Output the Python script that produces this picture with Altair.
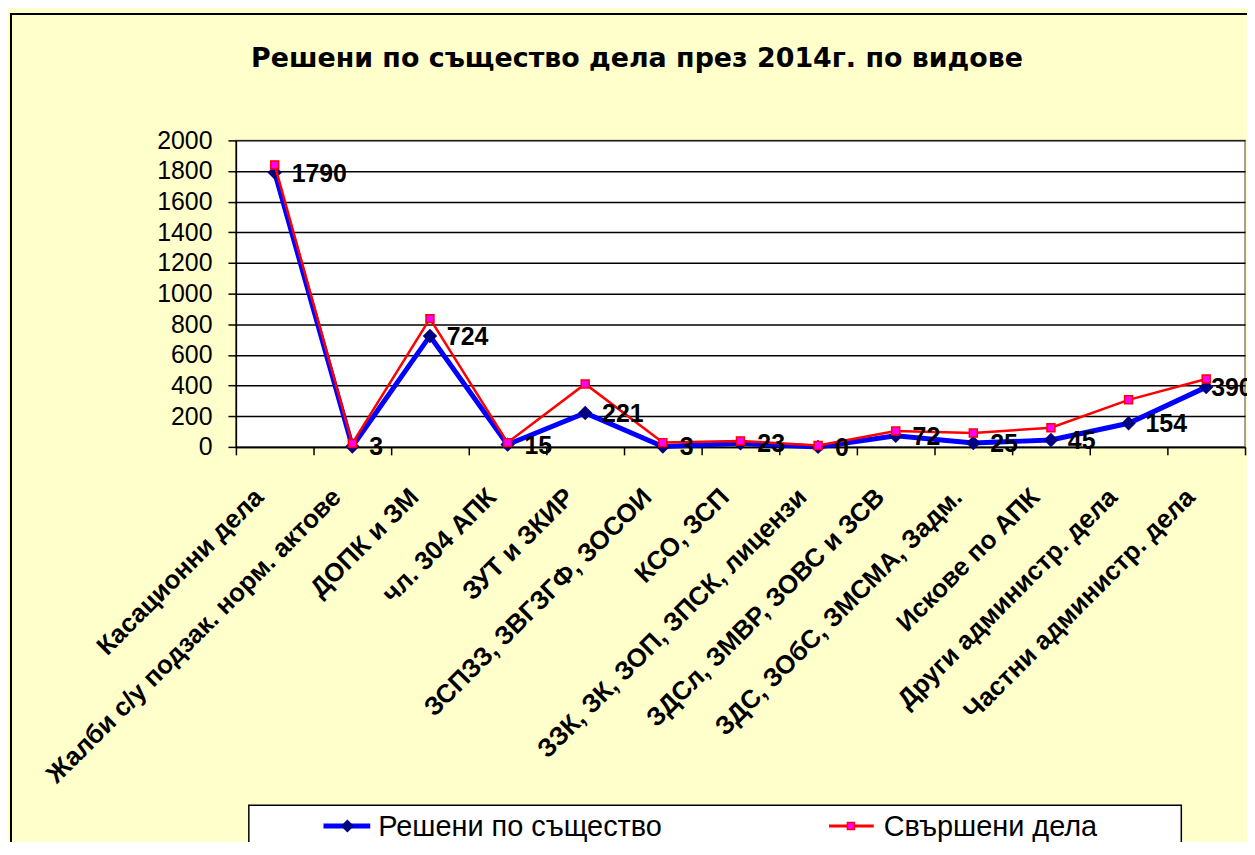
import altair as alt
import pandas as pd

categories = [
    "Касационни дела",
    "Жалби с/у подзак. норм. актове",
    "ДОПК и ЗМ",
    "чл. 304 АПК",
    "ЗУТ и ЗКИР",
    "ЗСПЗЗ, ЗВГЗГФ, ЗОСОИ",
    "КСО, ЗСП",
    "ЗЗК, ЗК, ЗОП, ЗПСК, лицензи",
    "ЗДСл, ЗМВР, ЗОВС и ЗСВ",
    "ЗДС, ЗОбС, ЗМСМА, Задм.",
    "Искове по АПК",
    "Други администр. дела",
    "Частни администр. дела",
]
resheni = [1790, 3, 724, 15, 221, 3, 23, 0, 72, 25, 45, 154, 390]
svarsheni = [1840, 22, 837, 28, 411, 28, 39, 9, 104, 91, 125, 307, 443]
series_names = ["Решени по същество", "Свършени дела"]
y_ticks = [0, 200, 400, 600, 800, 1000, 1200, 1400, 1600, 1800, 2000]
title_text = "Решени по същество дела през 2014г. по видове"

df = pd.DataFrame({"cat": categories, "resheni": resheni,
                   "svarsheni": svarsheni, "idx": list(range(len(categories)))})
one = pd.DataFrame({"a": [0]})

W, H = 1014, 308

x_enc = alt.X(
    "cat:N", sort=categories, bandPosition=0.5,
    scale=alt.Scale(type="band", paddingInner=0, paddingOuter=0),
    axis=alt.Axis(
        title=None, grid=False, domain=True, domainColor="black", domainWidth=1.5,
        ticks=True, tickBand="extent", tickSize=8, tickColor="black", tickWidth=1.5,
        labelAngle=-45, labelAlign="right", labelBaseline="middle",
        labelFont="Liberation Sans", labelFontWeight="bold", labelFontSize=26,
        labelColor="black", labelPadding=38, labelOffset=-16, labelLimit=1000,
        labelOverlap=False, labelBound=False,
    ),
)
y_scale = alt.Scale(domain=[0, 2000], nice=False, zero=True)
y_axis = alt.Axis(
    title=None, values=y_ticks, format="d", grid=True, gridColor="black", gridWidth=1.5,
    domain=True, domainColor="black", domainWidth=1.5,
    ticks=True, tickSize=8, tickColor="black", tickWidth=1.5,
    labelFont="Liberation Sans", labelFontSize=25, labelColor="black",
    labelPadding=16, labelBaseline="middle", labelBound=False, labelOverlap=False,
)


def y_enc(field):
    return alt.Y(f"{field}:Q", scale=y_scale, axis=y_axis, title=None)


base = alt.Chart(df)

blue_line = base.mark_line(color="#0000FF", strokeWidth=5).encode(
    x=x_enc, y=y_enc("resheni"))
blue_pts = base.mark_point(shape="diamond", filled=True, color="#000080",
                           size=210, opacity=1).encode(x=x_enc, y=y_enc("resheni"))
red_line = base.mark_line(color="#FF0000", strokeWidth=2.5).encode(
    x=x_enc, y=y_enc("svarsheni"))
red_pts = base.mark_point(shape="square", filled=True, fill="#FF00FF",
                          stroke="#FF0000", strokeWidth=1.5, size=64,
                          opacity=1).encode(x=x_enc, y=y_enc("svarsheni"))

label_style = dict(align="left", baseline="middle", font="Liberation Sans",
                   fontWeight="bold", fontSize=25, color="black")
labels = base.transform_filter("datum.idx < 12").mark_text(
    dx=17, dy=1, **label_style).encode(x=x_enc, y=y_enc("resheni"), text="resheni:Q")
labels_last = base.transform_filter("datum.idx == 12").mark_text(
    dx=5, dy=1, **label_style).encode(x=x_enc, y=y_enc("resheni"), text="resheni:Q")

# decorative chart frame
frame = alt.Chart(one).mark_rect(filled=False, stroke="black", strokeWidth=2).encode(
    x=alt.value(-226), x2=alt.value(1040), y=alt.value(-127), y2=alt.value(760))

# chart title (as a text mark so that the frame does not push it away)
title_mark = alt.Chart(one).mark_text(
    text=title_text, font="DejaVu Sans", fontWeight="bold", fontSize=27,
    color="black", align="center", baseline="alphabetic").encode(
    x=alt.value(403), y=alt.value(-74))

# legend (box, symbols, texts)
LY = 689
leg_box = alt.Chart(one).mark_rect(fill="white", stroke="black", strokeWidth=1.5).encode(
    x=alt.value(13), x2=alt.value(950), y=alt.value(668), y2=alt.value(760))
leg_blue_line = alt.Chart(one).mark_rule(color="#0000FF", strokeWidth=5).encode(
    x=alt.value(88), x2=alt.value(135), y=alt.value(LY))
leg_blue_pt = alt.Chart(one).mark_point(shape="diamond", filled=True, color="#000080",
                                        size=170, opacity=1).encode(
    x=alt.value(112), y=alt.value(LY))
leg_red_line = alt.Chart(one).mark_rule(color="#FF0000", strokeWidth=3).encode(
    x=alt.value(596), x2=alt.value(641), y=alt.value(LY))
leg_red_pt = alt.Chart(one).mark_point(shape="square", filled=True, fill="#FF00FF",
                                       stroke="#FF0000", strokeWidth=1.5, size=49,
                                       opacity=1).encode(
    x=alt.value(618), y=alt.value(LY))
leg_text_style = dict(align="left", baseline="alphabetic", font="Liberation Sans",
                      fontSize=29, color="black")
leg_t1 = alt.Chart(one).mark_text(text=series_names[0], **leg_text_style).encode(
    x=alt.value(143), y=alt.value(LY + 10))
leg_t2 = alt.Chart(one).mark_text(text=series_names[1], **leg_text_style).encode(
    x=alt.value(651), y=alt.value(LY + 10))

chart = alt.layer(
    frame, title_mark, blue_line, blue_pts, red_line, red_pts, labels, labels_last,
    leg_box, leg_blue_line, leg_blue_pt, leg_red_line, leg_red_pt, leg_t1, leg_t2,
).properties(
    width=W, height=H,
    autosize="none",
    padding={"left": 229, "top": 131, "right": 2, "bottom": 395},
    background="#FFFFCC",
).configure_view(
    fill="white", stroke="#808080", strokeWidth=1.5,
)

chart.save("out.html", embed_options={"renderer": "svg", "actions": False})
